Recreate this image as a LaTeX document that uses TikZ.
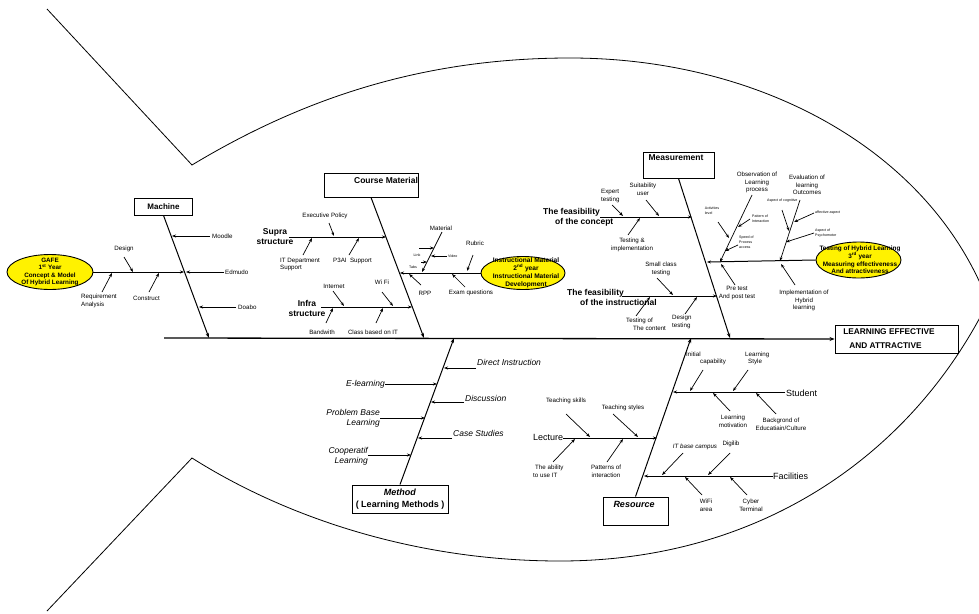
\documentclass[tikz,border=0pt]{standalone}
\usepackage{fontspec}
\setmainfont{Liberation Sans}
\usetikzlibrary{arrows.meta,shapes.geometric}
\newcommand\arw[3]{\coordinate (#1s) at (#2);\coordinate (#1e) at (#3);\draw[arr] (#1s) -- (#1e);}
\begin{document}
\begin{tikzpicture}[x=1pt,y=-1pt,
  arr/.style={-{Stealth[length=4pt,width=3pt]},line width=0.7pt},
  bone/.style={-{Stealth[length=5pt,width=3.5pt]},line width=1pt},
  lbl/.style={inner sep=0pt,font=\fontsize{6.2}{7.6}\selectfont,align=center},
  tiny/.style={inner sep=0pt,font=\fontsize{3.6}{5.2}\selectfont,align=left},
  sub/.style={inner sep=0pt,font=\bfseries\fontsize{8.5}{10}\selectfont,align=center},
  ital/.style={inner sep=0pt,font=\itshape\fontsize{8.5}{10}\selectfont,align=right},
  big/.style={inner sep=0pt,font=\fontsize{9}{10}\selectfont},
  box/.style={draw,line width=0.9pt,inner sep=0pt},
  oval/.style={ellipse,draw,fill=yellow,line width=0.9pt,inner sep=0pt},
  ovtext/.style={inner sep=0pt,font=\bfseries\fontsize{6.3}{7.6}\selectfont,align=center},
]
\useasboundingbox (0,0) rectangle (979,613);
% fish outline
\begin{scope}
\clip (0,0) rectangle (979,613);
\draw[line width=0.8pt] (47,9) -- (192,165) .. controls (300,100) and (420,58) .. (570,58)
  .. controls (760,58) and (930,150) .. (988,302)
  .. controls (912,455) and (760,561) .. (560,561)
  .. controls (420,561) and (290,520) .. (192,458) -- (47,611);
\end{scope}

% head box and spine
\node[box,minimum width=123pt,minimum height=28pt] (goal) at (896.5,339) {};
\node[inner sep=0pt,font=\bfseries\fontsize{8.3}{14}\selectfont,align=left] (goalt) at (889,338.5) {LEARNING EFFECTIVE\\\hspace{6pt}AND ATTRACTIVE};
\coordinate (tail) at (164,338);
\draw[line width=1.3pt,-{Stealth[length=5pt,width=4pt]}] (tail) -- (goal.west);
\coordinate (sp1) at (209,338);
\coordinate (sp2) at (424,338);
\coordinate (sp3) at (730,338);
\coordinate (sp4) at (454,338);
\coordinate (sp5) at (691,338);

% ---------------- Machine
\node[box,minimum width=58pt,minimum height=17pt,font=\bfseries\fontsize{8}{9}\selectfont] (machine) at (163.5,206.5) {Machine};
\draw[bone] (machine.south) -- (sp1);
\node[lbl,anchor=west] (moodle) at (212,236) {Moodle};
\node[lbl,anchor=west] (edmudo) at (225,272) {Edmudo};
\node[lbl,anchor=west] (doabo) at (238,307) {Doabo};
\arw{mo}{210,236}{172,236}
\arw{ed}{224,272}{186,272}
\arw{do}{236,307}{199,307}
\node[oval,minimum width=86pt,minimum height=35pt] (gafe) at (50,272) {};
\node[ovtext] (gafet) at (50,272) {GAFE\\1\textsuperscript{st} Year\\Concept \& Model\\Of Hybrid Learning};
\coordinate (gafeend) at (184,272);
\draw[arr,line width=1pt] (gafe.east) -- (gafeend);
\node[lbl] (design) at (124,249) {Design};
\node[lbl,anchor=west,align=left] (req) at (81,301) {Requirement\\Analysis};
\node[lbl,anchor=west] (construct) at (133,298) {Construct};
\arw{de}{124,257}{133,272}
\arw{rq}{102,292}{112,273}
\arw{co}{149,292}{159,273}

% ---------------- Course Material
\node[box,minimum width=94pt,minimum height=24pt] (cm) at (371,185) {};
\node[inner sep=0pt,font=\bfseries\fontsize{8.5}{10}\selectfont] (cmt) at (386,180) {Course Material};
\draw[bone] (cm.south) -- (sp2);
\node[sub] (supra) at (275,237) {Supra\\structure};
\arw{su}{289,237}{386,237}
\node[lbl] (exec) at (325,216) {Executive Policy};
\node[lbl,anchor=west,align=left] (itd) at (280,264.5) {IT Department\\Support};
\node[lbl,anchor=west] (p3ai) at (333,261) {P3AI\ \ Support};
\arw{ex}{329,223}{334,236}
\arw{it}{303,255}{312,238}
\arw{p3}{349,255}{359,238}
\node[sub] (infra) at (307,308) {Infra\\structure};
\arw{in}{321,307}{412,307}
\node[lbl] (internet) at (334,286) {Internet};
\node[lbl] (wifi) at (382,282) {Wi Fi};
\node[lbl] (band) at (322,332) {Bandwith};
\node[lbl] (class) at (373,332) {Class based on IT};
\arw{ie}{333,291}{344,306}
\arw{wf}{382,292}{393,306}
\arw{bw}{326,323}{333,308}
\arw{cb}{376,323}{383,308}
\node[oval,minimum width=84pt,minimum height=33pt] (im) at (523,273) {};
\node[ovtext,font=\bfseries\fontsize{6.6}{8}\selectfont] (imt) at (526,273) {Instructional Material\\2\textsuperscript{nd} year\\Instructional Material\\Development};
\coordinate (imend) at (400,273);
\draw[arr,line width=1pt] (im.west) -- (imend);
\node[lbl] (material) at (441,228) {Material};
\arw{ma}{442,232}{422,272}
\arw{x1}{419,248}{434,248}
\arw{x2}{421,262}{427,262}
\arw{vi}{447,256}{431,256}
\node[tiny] (link) at (417,255) {Link};
\node[tiny,anchor=west] (video) at (448,256) {Video};
\node[tiny] (tabs) at (413,267) {Tabs};
\node[lbl] (rubric) at (475,243) {Rubric};
\node[lbl] (rpp) at (425,293) {RPP};
\node[lbl] (exam) at (471,293) {Exam questions};
\arw{ru}{473,255}{467,271}
\arw{rp}{421,285}{409,274}
\arw{eq}{465,287}{452,274}

% ---------------- Measurement
\node[box,minimum width=71pt,minimum height=26pt] (meas) at (678.5,165) {};
\node[inner sep=0pt,font=\bfseries\fontsize{8.5}{10}\selectfont] (meast) at (676,158) {Measurement};
\draw[bone] (meas.south) -- (sp3);
\node[sub,anchor=west,align=left] (fc) at (543,217.5) {The feasibility\\\hspace{12pt}of the concept};
\arw{fc}{600,217}{692,217}
\node[lbl,anchor=west,align=left] (expert) at (601,196) {Expert\\testing};
\node[lbl] (suit) at (643,189) {Suitability\\user};
\node[lbl] (ti) at (632,245) {Testing \&\\implementation};
\arw{et}{612,205}{623,216}
\arw{su2}{646,200}{659,216}
\arw{tn}{628,235}{640,218}
\node[sub,anchor=west,align=left] (fi) at (567,297.5) {The feasibility\\\hspace{13pt}of the instructional};
\arw{fi}{622,296}{717,296}
\node[lbl] (small) at (661,269) {Small class\\testing};
\node[lbl,anchor=west,align=left] (toc) at (626,324.5) {Testing of\\\hspace{7pt}The content};
\node[lbl,anchor=west,align=left] (dt) at (672,322) {Design\\testing};
\arw{sc}{657,278}{673,295}
\arw{tc}{636,316}{650,297}
\arw{dg}{685,314}{697,297}
\node[oval,minimum width=85pt,minimum height=36pt] (th) at (858.5,260) {};
\node[ovtext,font=\bfseries\fontsize{6.4}{7.8}\selectfont] (tht) at (860,260) {Testing of Hybrid Learning\\3\textsuperscript{rd} year\\Measuring effectiveness\\And attractiveness};
\coordinate (thend) at (707,262);
\draw[arr,line width=1pt] (th.west) -- (thend);
\node[lbl] (obs) at (757,182.5) {Observation of\\Learning\\process};
\arw{ob}{752,195}{720,262}
\node[tiny] (act) at (712,211) {Activities\\level};
\node[tiny,anchor=west] (pat) at (752,219) {Pattern of\\Interaction};
\node[tiny,anchor=west] (speed) at (739,242) {Speed of\\Process\\access};
\arw{ac}{718,222}{729,238}
\arw{pa}{750,219}{738,227}
\arw{sp}{738,245}{725,251}
\node[lbl] (pre) at (737,293) {Pre test\\And post test};
\arw{pr}{735,285}{721,264}
\node[lbl] (eval) at (807,185) {Evaluation of\\learning\\Outcomes};
\arw{ev}{800,200}{780,261}
\node[tiny,anchor=west] (cog) at (767,201) {Aspect of cognitive};
\node[tiny,anchor=west] (aff) at (815,213) {affective aspect};
\node[tiny,anchor=west] (psy) at (815,233) {Aspect of\\Psychomotor};
\arw{cg}{782,210}{789,231}
\arw{af}{814,213}{794,222}
\arw{ps}{814,233}{786,242}
\node[lbl] (impl) at (804,300.5) {Implementation of\\Hybrid\\learning};
\arw{im}{795,285}{781,264}

% ---------------- Method
\node[box,minimum width=96pt,minimum height=28pt,align=center,font=\bfseries\fontsize{9}{12}\selectfont] (method) at (400,499) {\textit{Method}\\( Learning Methods )};
\draw[bone] (method.north) -- (sp4);
\node[ital,anchor=west] (direct) at (477,362) {Direct Instruction};
\node[ital,anchor=east] (elearn) at (385,384) {E-learning};
\node[ital,anchor=west] (disc) at (465,398) {Discussion};
\node[ital,anchor=east] (pbl) at (380,418) {Problem Base\\Learning};
\node[ital,anchor=west] (case) at (453,433) {Case Studies};
\node[ital,anchor=east] (coop) at (368,456) {Cooperatif\\Learning};
\arw{di}{476,368}{444,368}
\arw{el}{385,384}{437,384}
\arw{ds}{464,402}{431,402}
\arw{pb}{380,418}{425,418}
\arw{cs}{452,438}{418,438}
\arw{cp}{368,455}{411,455}

% ---------------- Resource
\node[box,minimum width=65pt,minimum height=28pt] (res) at (635.5,511) {};
\node[inner sep=0pt,font=\bfseries\itshape\fontsize{9}{10}\selectfont] (rest) at (634,504) {Resource};
\draw[bone] (res.north) -- (sp5);
\node[big,anchor=west] (student) at (786,393) {Student};
\arw{st}{785,392}{673,392}
\node[lbl,anchor=west,align=left] (initial) at (686,358.5) {Initial\\\hspace{14pt}capability};
\node[lbl,anchor=west,align=left] (lstyle) at (745,358.5) {Learning\\\hspace{3pt}Style};
\node[lbl] (lmot) at (733,421.5) {Learning\\motivation};
\node[lbl] (back) at (781,424) {Backgrond of\\Educatiain/Culture};
\arw{ic}{703,370}{690,391}
\arw{ls}{748,370}{733,391}
\arw{lm}{730,411}{713,393}
\arw{bg}{776,414}{756,393}
\node[big,anchor=west] (lecture) at (533,437) {Lecture};
\arw{le}{563,438}{657,438}
\node[lbl] (tskill) at (566,401) {Teaching skills};
\node[lbl] (tstyle) at (623,408) {Teaching styles};
\node[lbl,anchor=west,align=left] (abil) at (533,471.5) {\hspace{2pt}The ability\\to use IT};
\node[lbl] (patt) at (606,471.5) {Patterns of\\interaction};
\arw{tk}{566,414}{590,437}
\arw{ty}{613,414}{638,437}
\arw{ab}{553,462}{575,439}
\arw{pt}{607,462}{623,439}
\node[big,anchor=west] (fac) at (773,476) {Facilities};
\arw{fa}{773,476}{644,476}
\node[lbl,font=\itshape\fontsize{6.2}{7.6}\selectfont] (itb) at (695,447) {IT base campus};
\node[lbl] (digi) at (731,444) {Digilib};
\node[lbl] (wifia) at (706,505.5) {WiFi\\area};
\node[lbl] (cyber) at (751,505.5) {Cyber\\Terminal};
\arw{ib}{683,453}{662,475}
\arw{dl}{730,453}{708,475}
\arw{wa}{702,495}{685,477}
\arw{cy}{747,495}{730,477}
\end{tikzpicture}
\end{document}
